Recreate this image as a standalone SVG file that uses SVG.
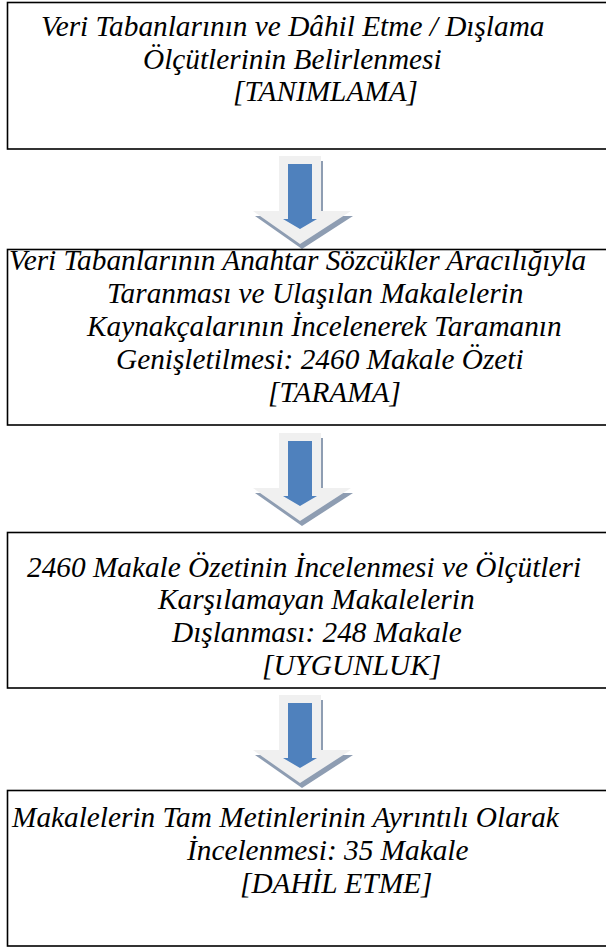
<svg xmlns="http://www.w3.org/2000/svg" xmlns:xlink="http://www.w3.org/1999/xlink" width="606" height="947" viewBox="0 0 606 947">
  <style>
    .box { fill: #ffffff; stroke: #000000; stroke-width: 1.6; }
    .t { font-family: "Liberation Serif", "Times New Roman", serif; font-style: italic; font-size: 29.3px; fill: #000000; }
    .sh { fill: #8e9db2; }
    .lt { fill: #f0f0f0; }
    .bl { fill: #4f81bd; }
  </style>
  <defs>
    <g id="arrow">
      <polygon class="sh" points="281,5 323,5 323,60 353,60 302,93 255,60 281,60"/>
      <polygon class="lt" points="279,0 321,0 321,55 351,55 300,88 253,55 279,55"/>
      <polygon class="bl" points="288,8 312,8 312,63 317,63 300,73 283,63 288,63"/>
    </g>
  </defs>
  <rect x="0" y="0" width="606" height="947" fill="#ffffff"/>

  <g id="connectors">
    <use xlink:href="#arrow" href="#arrow" transform="translate(0,156)"/>
    <use xlink:href="#arrow" href="#arrow" transform="translate(0,433)"/>
    <use xlink:href="#arrow" href="#arrow" transform="translate(0,695)"/>
  </g>

  <g id="node1">
    <rect class="box" x="7.5" y="2.5" width="620" height="146.5"/>
    <text class="t" x="41" y="36">Veri Tabanlarının ve Dâhil Etme / Dışlama</text>
    <text class="t" x="143" y="69">Ölçütlerinin Belirlenmesi</text>
    <text class="t" x="233" y="101">[TANIMLAMA]</text>
  </g>

  <g id="node2">
    <rect class="box" x="7.5" y="249.5" width="620" height="175.5"/>
    <text class="t" x="9" y="270">Veri Tabanlarının Anahtar Sözcükler Aracılığıyla</text>
    <text class="t" x="107" y="303">Taranması ve Ulaşılan Makalelerin</text>
    <text class="t" x="87" y="336">Kaynakçalarının İncelenerek Taramanın</text>
    <text class="t" x="116" y="369">Genişletilmesi: 2460 Makale Özeti</text>
    <text class="t" x="268" y="402">[TARAMA]</text>
  </g>

  <g id="node3">
    <rect class="box" x="7.5" y="532.5" width="620" height="155.5"/>
    <text class="t" x="27" y="577">2460 Makale Özetinin İncelenmesi ve Ölçütleri</text>
    <text class="t" x="158" y="609">Karşılamayan Makalelerin</text>
    <text class="t" x="172" y="642">Dışlanması: 248 Makale</text>
    <text class="t" x="262" y="675">[UYGUNLUK]</text>
  </g>

  <g id="node4">
    <rect class="box" x="7.5" y="790.5" width="620" height="155.5"/>
    <text class="t" x="12" y="827">Makalelerin Tam Metinlerinin Ayrıntılı Olarak</text>
    <text class="t" x="187" y="860">İncelenmesi: 35 Makale</text>
    <text class="t" x="240" y="893">[DAHİL ETME]</text>
  </g>
</svg>
